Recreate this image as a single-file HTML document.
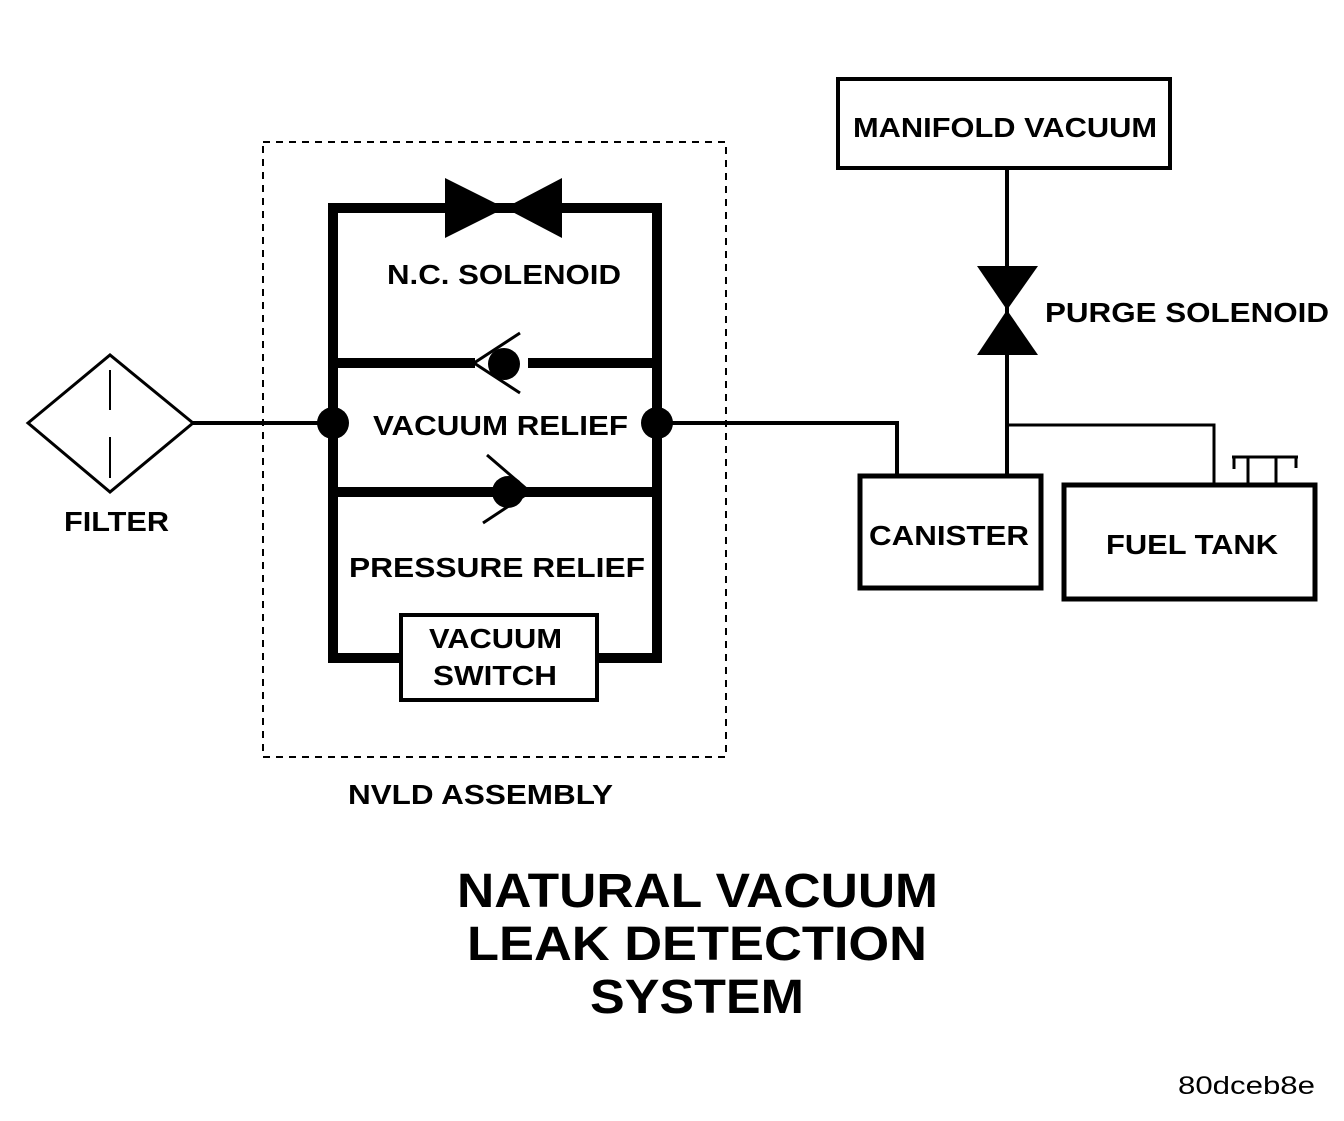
<!DOCTYPE html>
<html><head><style>
body{margin:0;background:#fff}
svg text{font-family:"Liberation Sans",Arial,sans-serif;font-weight:bold;fill:#000}
</style></head><body>
<svg width="1344" height="1116" viewBox="0 0 1344 1116" xmlns="http://www.w3.org/2000/svg">
<rect width="1344" height="1116" fill="#fff"/>
<rect x="263" y="142" width="463" height="615" fill="none" stroke="#000" stroke-width="2" stroke-dasharray="7,6"/>
<g stroke="#000" stroke-width="10" fill="none">
<line x1="333" y1="208" x2="333" y2="663"/>
<line x1="657" y1="208" x2="657" y2="663"/>
<line x1="328" y1="208" x2="662" y2="208"/>
<line x1="328" y1="658" x2="402" y2="658"/>
<line x1="596" y1="658" x2="662" y2="658"/>
<line x1="328" y1="363" x2="475" y2="363"/>
<line x1="528" y1="363" x2="662" y2="363"/>
<line x1="328" y1="492" x2="530" y2="492"/>
<line x1="530" y1="492" x2="662" y2="492"/>
</g>
<polygon points="445,178 505,208 445,238" fill="#000"/>
<polygon points="562,178 505,208 562,238" fill="#000"/>
<circle cx="504" cy="364" r="16" fill="#000"/>
<polyline points="520,333 474,363 520,393" fill="none" stroke="#000" stroke-width="3"/>
<circle cx="508" cy="492" r="16" fill="#000"/>
<polyline points="487,455 530,492 483,523" fill="none" stroke="#000" stroke-width="3"/>
<rect x="401" y="615" width="196" height="85" fill="#fff" stroke="#000" stroke-width="4"/>
<polygon points="28,423 110,355 193,423 110,492" fill="none" stroke="#000" stroke-width="3"/>
<line x1="110" y1="370" x2="110" y2="410" stroke="#000" stroke-width="2"/>
<line x1="110" y1="437" x2="110" y2="478" stroke="#000" stroke-width="2"/>
<line x1="193" y1="423" x2="333" y2="423" stroke="#000" stroke-width="4"/>
<circle cx="333" cy="423" r="16" fill="#000"/>
<circle cx="657" cy="423" r="16" fill="#000"/>
<polyline points="657,423 897,423 897,476" fill="none" stroke="#000" stroke-width="4"/>
<rect x="838" y="79" width="332" height="89" fill="none" stroke="#000" stroke-width="4"/>
<line x1="1007" y1="168" x2="1007" y2="476" stroke="#000" stroke-width="4"/>
<polygon points="977,266 1038,266 1007,310" fill="#000"/>
<polygon points="977,355 1038,355 1007,310" fill="#000"/>
<polyline points="1007,425 1214,425 1214,486" fill="none" stroke="#000" stroke-width="3"/>
<rect x="860" y="476" width="181" height="112" fill="none" stroke="#000" stroke-width="5"/>
<rect x="1064" y="485" width="251" height="114" fill="none" stroke="#000" stroke-width="5"/>
<g stroke="#000" stroke-width="3" fill="none">
<line x1="1232" y1="457" x2="1298" y2="457"/>
<line x1="1248" y1="457" x2="1248" y2="485"/>
<line x1="1276" y1="457" x2="1276" y2="485"/>
<line x1="1234" y1="457" x2="1234" y2="469"/>
<line x1="1296" y1="457" x2="1296" y2="468"/>
</g>
<g font-size="28" lengthAdjust="spacingAndGlyphs">
<text x="387" y="284" textLength="234" lengthAdjust="spacingAndGlyphs">N.C. SOLENOID</text>
<text x="373" y="435" textLength="255" lengthAdjust="spacingAndGlyphs">VACUUM RELIEF</text>
<text x="349" y="577" textLength="296" lengthAdjust="spacingAndGlyphs">PRESSURE RELIEF</text>
<text x="429" y="648" textLength="133" lengthAdjust="spacingAndGlyphs">VACUUM</text>
<text x="433" y="685" textLength="124" lengthAdjust="spacingAndGlyphs">SWITCH</text>
<text x="64" y="531" textLength="105" lengthAdjust="spacingAndGlyphs">FILTER</text>
<text x="348" y="804" textLength="265" lengthAdjust="spacingAndGlyphs">NVLD ASSEMBLY</text>
<text x="853" y="137" textLength="304" lengthAdjust="spacingAndGlyphs">MANIFOLD VACUUM</text>
<text x="1045" y="322" textLength="284" lengthAdjust="spacingAndGlyphs">PURGE SOLENOID</text>
<text x="869" y="545" textLength="160" lengthAdjust="spacingAndGlyphs">CANISTER</text>
<text x="1106" y="554" textLength="172" lengthAdjust="spacingAndGlyphs">FUEL TANK</text>
</g>
<g font-size="48">
<text x="457" y="907" textLength="481" lengthAdjust="spacingAndGlyphs">NATURAL VACUUM</text>
<text x="467" y="960" textLength="460" lengthAdjust="spacingAndGlyphs">LEAK DETECTION</text>
<text x="590" y="1013" textLength="214" lengthAdjust="spacingAndGlyphs">SYSTEM</text>
</g>
<text x="1178" y="1094" font-size="25" textLength="137" lengthAdjust="spacingAndGlyphs" style="font-weight:normal">80dceb8e</text>
</svg>
</body></html>
